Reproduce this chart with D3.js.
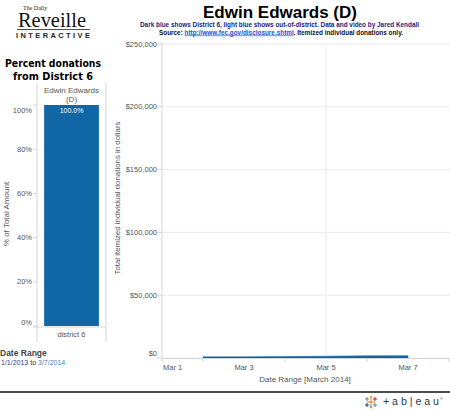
<!DOCTYPE html>
<html>
<head>
<meta charset="utf-8">
<script src="https://cdnjs.cloudflare.com/ajax/libs/d3/7.8.5/d3.min.js"></script>
<style>
  body { margin: 0; background: #fff; }
  svg { display: block; font-family: Arial, "Liberation Sans", sans-serif; }
</style>
</head>
<body>
<svg id="chart"></svg>
<script>
// data
const dates = ["2014-03-02", "2014-03-03", "2014-03-04", "2014-03-05", "2014-03-06", "2014-03-07"];
const district6 = [900, 900, 1100, 1400, 1700, 1800];
const outOfDistrict = [0, 0, 0, 0, 0, 0];
const yTicks = [0, 50000, 100000, 150000, 200000, 250000];
const xTickDates = ["2014-03-01", "2014-03-03", "2014-03-05", "2014-03-07"];
const xMinorDates = ["2014-03-02", "2014-03-04", "2014-03-06", "2014-03-08"];
const pctCategories = ["district 6"];
const pctValues = [1.0];
const pctTicks = [0, 0.2, 0.4, 0.6, 0.8, 1];

const width = 450, height = 412;
const svg = d3.select("#chart").attr("width", width).attr("height", height);

const gray = "#555";
const lineGray = "#d4d4d4";
const dark = "#1167a5";
const light = "#9cc3e2";

// ---- logo ----
const logo = svg.append("g");
logo.append("text").attr("x", 23).attr("y", 10).attr("font-family", "Liberation Serif, serif")
    .attr("font-size", 6).attr("fill", "#222").text("The Daily");
logo.append("text").attr("x", 18).attr("y", 26.5).attr("font-family", "Liberation Serif, serif")
    .attr("font-size", 21).attr("fill", "#111")
    .attr("textLength", 68).attr("lengthAdjust", "spacingAndGlyphs").text("Reveille");
logo.append("line").attr("x1", 17).attr("x2", 90).attr("y1", 29.5).attr("y2", 29.5)
    .attr("stroke", "#222").attr("stroke-width", 0.8);
logo.append("text").attr("x", 16).attr("y", 38).attr("font-size", 7.5).attr("font-weight", "bold")
    .attr("fill", "#222").attr("textLength", 74).attr("lengthAdjust", "spacing").text("INTERACTIVE");

// ---- title ----
svg.append("text").attr("x", 280).attr("y", 17.5).attr("text-anchor", "middle")
    .attr("font-size", 17).attr("font-weight", "bold").attr("fill", "#000").text("Edwin Edwards (D)");
svg.append("text").attr("x", 140).attr("y", 26.5).attr("font-size", 6.3).attr("font-weight", "bold")
    .attr("fill", "#1a237e").attr("textLength", 279).attr("lengthAdjust", "spacingAndGlyphs")
    .text("Dark blue shows District 6, light blue shows out-of-district. Data and video by Jared Kendall");
const src = svg.append("text").attr("x", 159).attr("y", 34.5).attr("font-size", 6.3).attr("font-weight", "bold")
    .attr("fill", "#111").attr("textLength", 244).attr("lengthAdjust", "spacingAndGlyphs");
src.append("tspan").text("Source: ");
src.append("tspan").attr("fill", "#1f4fd0").attr("text-decoration", "underline").text("http://www.fec.gov/disclosure.shtml");
src.append("tspan").text(". Itemized individual donations only.");

// ---- left panel: percent from district 6 ----
svg.append("text").attr("x", 53).attr("y", 67).attr("text-anchor", "middle")
    .attr("font-family", "DejaVu Sans, sans-serif").attr("font-size", 10.5).attr("font-weight", "bold")
    .attr("fill", "#000").attr("textLength", 96).attr("lengthAdjust", "spacingAndGlyphs").text("Percent donations");
svg.append("text").attr("x", 53).attr("y", 80).attr("text-anchor", "middle")
    .attr("font-family", "DejaVu Sans, sans-serif").attr("font-size", 10.5).attr("font-weight", "bold")
    .attr("fill", "#000").attr("textLength", 80).attr("lengthAdjust", "spacingAndGlyphs").text("from District 6");

const px = d3.scaleBand().domain(pctCategories).range([37, 106]).paddingInner(0).paddingOuter(0.13);
const py = d3.scaleLinear().domain([0, 1]).range([326, 105]);

svg.append("line").attr("x1", 37).attr("x2", 37).attr("y1", 83).attr("y2", 342).attr("stroke", lineGray);
svg.append("line").attr("x1", 106).attr("x2", 106).attr("y1", 83).attr("y2", 342).attr("stroke", lineGray);
svg.append("line").attr("x1", 33).attr("x2", 106).attr("y1", 327).attr("y2", 327).attr("stroke", lineGray);

svg.append("text").attr("x", 71.5).attr("y", 93).attr("text-anchor", "middle").attr("font-size", 8)
    .attr("fill", gray).text("Edwin Edwards");
svg.append("text").attr("x", 71.5).attr("y", 101.5).attr("text-anchor", "middle").attr("font-size", 8)
    .attr("fill", gray).text("(D)");

svg.selectAll(".pbar").data(pctValues).enter().append("rect")
    .attr("x", (d, i) => px(pctCategories[i]))
    .attr("width", px.bandwidth())
    .attr("y", d => py(d))
    .attr("height", d => py(0) - py(d))
    .attr("fill", dark);
svg.selectAll(".plab").data(pctValues).enter().append("text")
    .attr("x", (d, i) => px(pctCategories[i]) + px.bandwidth() / 2)
    .attr("y", d => py(d) + 7.5)
    .attr("text-anchor", "middle").attr("font-size", 7).attr("fill", "#fff")
    .text(d => d3.format(".1%")(d));

const pAxis = svg.append("g");
pAxis.selectAll("line").data(pctTicks).enter().append("line")
    .attr("x1", 33).attr("x2", 37).attr("y1", d => py(d)).attr("y2", d => py(d)).attr("stroke", lineGray);
pAxis.selectAll("text").data(pctTicks).enter().append("text")
    .attr("x", 32).attr("y", d => Math.min(Math.max(py(d), 110), 322))
    .attr("dy", "0.35em").attr("text-anchor", "end").attr("font-size", 7.5).attr("fill", gray)
    .text(d => d3.format(".0%")(d));
svg.append("text").attr("transform", "translate(9,214) rotate(-90)").attr("text-anchor", "middle")
    .attr("font-size", 8).attr("fill", gray).text("% of Total Amount");
svg.selectAll(".pcat").data(pctCategories).enter().append("text")
    .attr("x", d => px(d) + px.bandwidth() / 2).attr("y", 337).attr("text-anchor", "middle")
    .attr("font-size", 7.5).attr("fill", gray).text(d => d);

svg.append("text").attr("x", 0).attr("y", 356).attr("font-size", 8.5).attr("font-weight", "bold")
    .attr("fill", "#444").text("Date Range");
const dr = svg.append("text").attr("x", 1).attr("y", 365).attr("font-size", 7).attr("fill", "#333");
dr.append("tspan").attr("fill", "#2a3f8a").text("1/1/2013");
dr.append("tspan").text(" to ");
dr.append("tspan").attr("fill", "#4b7fc0").text("3/7/2014");

// ---- right panel: cumulative donations ----
const parse = d3.timeParse("%Y-%m-%d");
const x = d3.scaleTime().domain([parse("2014-03-01"), parse("2014-03-08")]).range([162, 449]);
const y = d3.scaleLinear().domain([0, 250000]).range([358, 44]);

const grid = svg.append("g");
grid.selectAll("line").data(yTicks.filter(d => d > 0)).enter().append("line")
    .attr("x1", 162).attr("x2", 450).attr("y1", d => y(d)).attr("y2", d => y(d))
    .attr("stroke", "#ebebeb");
grid.append("line").attr("x1", x(parse("2014-03-05"))).attr("x2", x(parse("2014-03-05")))
    .attr("y1", 44).attr("y2", 358).attr("stroke", "#ebebeb");

const rows = dates.map((d, i) => ({ date: parse(d), district: district6[i], out: outOfDistrict[i] }));
const stack = d3.stack().keys(["district", "out"])(rows);
const area = d3.area().x(d => x(d.data.date)).y0(d => y(d[0])).y1(d => y(d[1]));
svg.selectAll(".layer").data(stack).enter().append("path")
    .attr("d", area).attr("fill", (d, i) => i === 0 ? dark : light)
    .attr("stroke", (d, i) => i === 0 ? dark : "none").attr("stroke-width", 0.6);

// y axis
svg.append("line").attr("x1", 162).attr("x2", 162).attr("y1", 42).attr("y2", 358).attr("stroke", lineGray);
const yAx = svg.append("g");
yAx.selectAll("line").data(yTicks).enter().append("line")
    .attr("x1", 157).attr("x2", 162).attr("y1", d => y(d)).attr("y2", d => y(d)).attr("stroke", lineGray);
yAx.selectAll("text").data(yTicks).enter().append("text")
    .attr("x", 157).attr("y", d => Math.min(y(d), 353)).attr("dy", "0.35em")
    .attr("text-anchor", "end").attr("font-size", 7.5).attr("fill", gray)
    .text(d => "$" + d3.format(",")(d));
svg.append("text").attr("transform", "translate(120,198) rotate(-90)").attr("text-anchor", "middle")
    .attr("font-size", 7.5).attr("fill", gray).attr("textLength", 153).attr("lengthAdjust", "spacingAndGlyphs")
    .text("Total itemized individual donations in dollars");

// x axis
svg.append("line").attr("x1", 162).attr("x2", 450).attr("y1", 358.5).attr("y2", 358.5).attr("stroke", lineGray);
const xAx = svg.append("g");
xAx.selectAll("line").data(["2014-03-01"].concat(xMinorDates)).enter().append("line")
    .attr("x1", d => x(parse(d))).attr("x2", d => x(parse(d)))
    .attr("y1", 358).attr("y2", 362).attr("stroke", lineGray);
xAx.selectAll("text").data(xTickDates).enter().append("text")
    .attr("x", (d, i) => i === 0 ? x(parse(d)) + 1 : x(parse(d)))
    .attr("y", 370).attr("text-anchor", (d, i) => i === 0 ? "start" : "middle")
    .attr("font-size", 7.5).attr("fill", gray)
    .text(d => d3.timeFormat("%b %-d")(parse(d)));
svg.append("text").attr("x", 305).attr("y", 382).attr("text-anchor", "middle")
    .attr("font-size", 8).attr("fill", gray).text("Date Range [March 2014]");

// ---- footer ----
svg.append("line").attr("x1", 0).attr("x2", 450).attr("y1", 392).attr("y2", 392)
    .attr("stroke", "#111").attr("stroke-width", 1.3);
const tb = svg.append("g").attr("transform", "translate(371,402)");
const crosses = [[0, 0, 4, "#e8762b"], [-4, -3, 2, "#5b879b"], [4, -3, 2, "#c72035"], [-4, 3, 2, "#1f457e"], [4, 3, 2, "#59879b"], [0, -5, 1.5, "#eb912b"], [0, 5, 1.5, "#7099a6"]];
crosses.forEach(c => {
    tb.append("line").attr("x1", c[0] - c[2]).attr("x2", c[0] + c[2]).attr("y1", c[1]).attr("y2", c[1])
        .attr("stroke", c[3]).attr("stroke-width", 1);
    tb.append("line").attr("x1", c[0]).attr("x2", c[0]).attr("y1", c[1] - c[2]).attr("y2", c[1] + c[2])
        .attr("stroke", c[3]).attr("stroke-width", 1);
});
svg.append("text").attr("x", 383).attr("y", 405).attr("font-size", 10).attr("fill", "#2a3b4d")
    .attr("textLength", 56).attr("lengthAdjust", "spacingAndGlyphs").text("+ a b | e a u");
svg.append("text").attr("x", 440).attr("y", 400).attr("font-size", 4).attr("fill", "#2a3b4d").text("\u00ae");
</script>
</body>
</html>
